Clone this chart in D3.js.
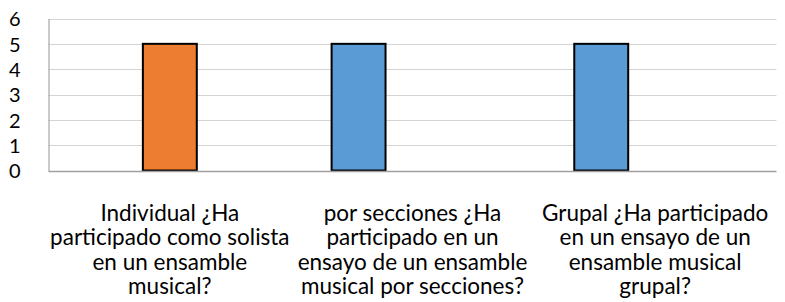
<!DOCTYPE html>
<html><head><meta charset="utf-8">
<script src="https://cdn.jsdelivr.net/npm/d3@7"></script>
<style>html,body{margin:0;padding:0;background:#fff;}svg{display:block;}</style>
</head><body>
<svg id="c" width="785" height="302"></svg>
<script>
const categories = [
  ["Individual ¿Ha", "participado como solista", "en un ensamble", "musical?"],
  ["por secciones ¿Ha", "participado en un", "ensayo de un ensamble", "musical por secciones?"],
  ["Grupal ¿Ha participado", "en un ensayo de un", "ensamble musical", "grupal?"]
];
const seriesNames = ["Serie 1", "Serie 2", "Serie 3"];
const serie1 = [null, 5, 5];
const serie2 = [5, null, null];
const serie3 = [null, null, null];
const seriesValues = [serie1, serie2, serie3];
const seriesColors = ["#5B9BD5", "#ED7D31", "#A5A5A5"];
const yTicks = [0, 1, 2, 3, 4, 5, 6];

(function () {
const svg = d3.select("#c");
const pLeft = 48.5, pRight = 776.5, pTop = 18.5, pBottom = 170.5;
const font = "Lato, 'Open Sans', sans-serif";

const catIdx = categories.map((d, i) => i);
const x0 = d3.scaleBand().domain(catIdx).range([pLeft, pRight]).padding(0);
const x1 = d3.scaleBand().domain(seriesNames).range([0, x0.bandwidth()]).paddingInner(0).paddingOuter(0.75);
const y = d3.scaleLinear().domain([0, 6]).range([pBottom, pTop]);

// gridlines
svg.append("g").selectAll("line").data(yTicks.filter(t => t > 0)).join("line")
  .attr("x1", pLeft).attr("x2", pRight)
  .attr("y1", d => Math.round(y(d)) + 0.5).attr("y2", d => Math.round(y(d)) + 0.5)
  .attr("stroke", "#D4D4D4").attr("stroke-width", 1);

// y axis
const yAxis = d3.axisLeft(y).tickValues(yTicks).tickSize(0).tickPadding(0).tickFormat(d3.format("d"));
const gy = svg.append("g").attr("transform", `translate(${pLeft},0)`).call(yAxis);
gy.select(".domain").attr("stroke", "#A6A6A6").attr("stroke-width", 1.2);
gy.selectAll(".tick text").attr("x", -28).attr("dy", "0.36em")
  .attr("font-family", font).attr("font-size", 20).attr("fill", "#000");

// bars
const bars = [];
seriesValues.forEach((vals, s) => vals.forEach((v, c) => {
  if (v != null) bars.push({s, c, v});
}));
svg.append("g").selectAll("rect").data(bars).join("rect")
  .attr("x", d => x0(d.c) + x1(seriesNames[d.s]))
  .attr("width", x1.bandwidth())
  .attr("y", d => y(d.v))
  .attr("height", d => y(0) - y(d.v))
  .attr("fill", d => seriesColors[d.s])
  .attr("stroke", "#000").attr("stroke-width", 2);

// x axis baseline
svg.append("line").attr("x1", pLeft).attr("x2", pRight)
  .attr("y1", Math.round(y(0)) + 0.5).attr("y2", Math.round(y(0)) + 0.5)
  .attr("stroke", "#A0A0A0").attr("stroke-width", 1.5);

// category labels
const gl = svg.append("g");
categories.forEach((lines, i) => {
  const cx = x0(i) + x0.bandwidth() / 2;
  const t = gl.append("text").attr("text-anchor", "middle")
    .attr("font-family", font).attr("font-size", 22.5).attr("fill", "#000");
  lines.forEach((ln, k) => {
    t.append("tspan").attr("x", cx).attr("y", 221 + k * 24.4).text(ln);
  });
});
})();
</script>
</body></html>
